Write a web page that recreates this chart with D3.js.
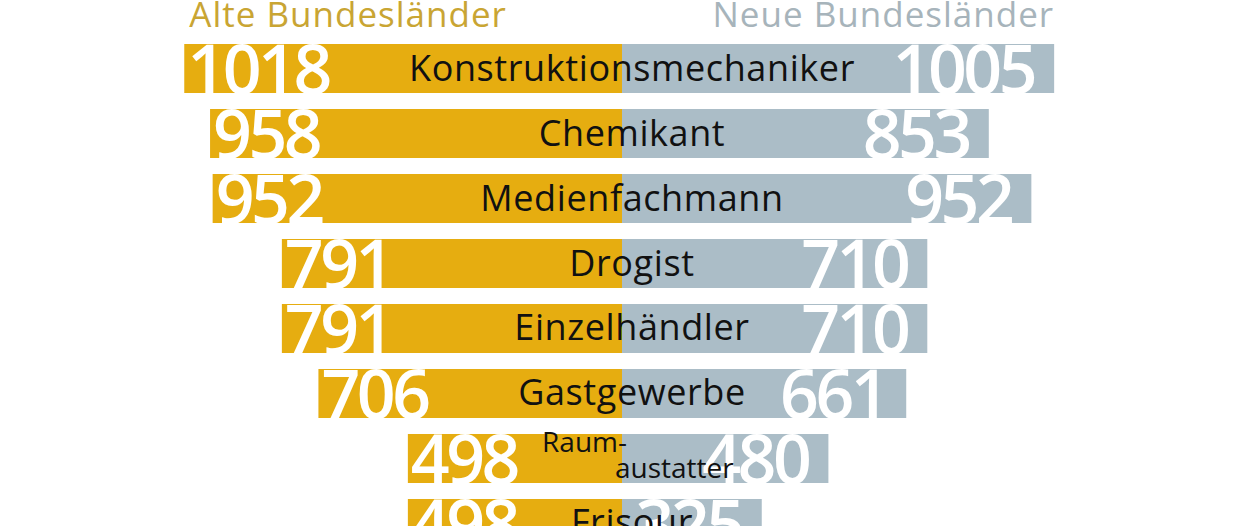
<!DOCTYPE html>
<html>
<head>
<meta charset="utf-8">
<script src="https://cdn.jsdelivr.net/npm/d3@7/dist/d3.min.js"></script>
<style>
  html, body { margin: 0; padding: 0; background: #ffffff; }
  svg { display: block; }
</style>
</head>
<body>
<svg id="chart" width="1248" height="526"></svg>
<script>
const categories = ["Konstruktionsmechaniker", "Chemikant", "Medienfachmann", "Drogist", "Einzelhändler", "Gastgewerbe", "Raum-\naustatter", "Frisour"];
const alteValues = [1018, 958, 952, 791, 791, 706, 498, 498];
const neueValues = [1005, 853, 952, 710, 710, 661, 480, 325];
const seriesNames = ["Alte Bundesländer", "Neue Bundesländer"];

const W = 1248, H = 526;
const centerX = 622;
const colors = { alte: "#e6ad10", neue: "#abbdc7", alteText: "#c9a533", neueText: "#a7b4bb" };

const svg = d3.select("#chart");

const y = d3.scaleBand()
  .domain(categories)
  .range([44, 548])
  .paddingInner(0.246)
  .paddingOuter(0);

const xLeft = d3.scaleLinear().domain([0, 1000]).range([centerX, centerX - 430]);
const xRight = d3.scaleLinear().domain([0, 1000]).range([centerX, centerX + 430]);

const rows = categories.map((c, i) => ({ cat: c, alte: alteValues[i], neue: neueValues[i] }));

// Headers
svg.append("text")
  .attr("x", xLeft(1018) + 5).attr("y", 27)
  .attr("font-family", "'Open Sans', sans-serif")
  .attr("font-size", 35)
  .attr("letter-spacing", 1)
  .attr("fill", colors.alteText)
  .text(seriesNames[0]);

svg.append("text")
  .attr("x", xRight(1005)).attr("y", 27)
  .attr("text-anchor", "end")
  .attr("font-family", "'Open Sans', sans-serif")
  .attr("font-size", 35)
  .attr("letter-spacing", 1)
  .attr("fill", colors.neueText)
  .text(seriesNames[1]);

const g = svg.selectAll("g.row").data(rows).enter().append("g").attr("class", "row");

// Bars
g.append("rect")
  .attr("x", d => xLeft(d.alte))
  .attr("y", d => y(d.cat))
  .attr("width", d => xLeft(0) - xLeft(d.alte))
  .attr("height", y.bandwidth())
  .attr("fill", colors.alte);

g.append("rect")
  .attr("x", xRight(0))
  .attr("y", d => y(d.cat))
  .attr("width", d => xRight(d.neue) - xRight(0))
  .attr("height", y.bandwidth())
  .attr("fill", colors.neue);

// Value numbers
const numFont = "'Open Sans', sans-serif";
g.append("text")
  .attr("x", d => xLeft(d.alte) + 3)
  .attr("y", d => y(d.cat) + y.bandwidth() + 1)
  .attr("font-family", numFont)
  .attr("font-weight", 600)
  .attr("font-size", 68)
  .attr("letter-spacing", -3.5)
  .attr("fill", "#ffffff")
  .text(d => d.alte);

g.append("text")
  .attr("x", d => xRight(d.neue) - 20)
  .attr("y", d => y(d.cat) + y.bandwidth() + 1)
  .attr("text-anchor", "end")
  .attr("font-family", numFont)
  .attr("font-weight", 600)
  .attr("font-size", 68)
  .attr("letter-spacing", -3.5)
  .attr("fill", "#ffffff")
  .text(d => d.neue);

// Category labels
const labelCenter = centerX + 10;
g.each(function(d) {
  const sel = d3.select(this);
  const lines = d.cat.split("\n");
  const top = y(d.cat);
  if (lines.length === 1) {
    sel.append("text")
      .attr("x", labelCenter)
      .attr("y", top + y.bandwidth() / 2 + 12)
      .attr("text-anchor", "middle")
      .attr("font-family", "'Open Sans', sans-serif")
      .attr("font-size", 36)
      .attr("letter-spacing", 0.6)
      .attr("fill", "#111111")
      .text(lines[0]);
  } else {
    sel.append("text")
      .attr("x", labelCenter - 5)
      .attr("y", top + 18)
      .attr("text-anchor", "end")
      .attr("font-family", "'Open Sans', sans-serif")
      .attr("font-size", 28)
      .attr("fill", "#111111")
      .text(lines[0]);
    sel.append("text")
      .attr("x", labelCenter - 17)
      .attr("y", top + 44)
      .attr("text-anchor", "start")
      .attr("font-family", "'Open Sans', sans-serif")
      .attr("font-size", 28)
      .attr("fill", "#111111")
      .text(lines[1]);
  }
});
</script>
</body>
</html>
